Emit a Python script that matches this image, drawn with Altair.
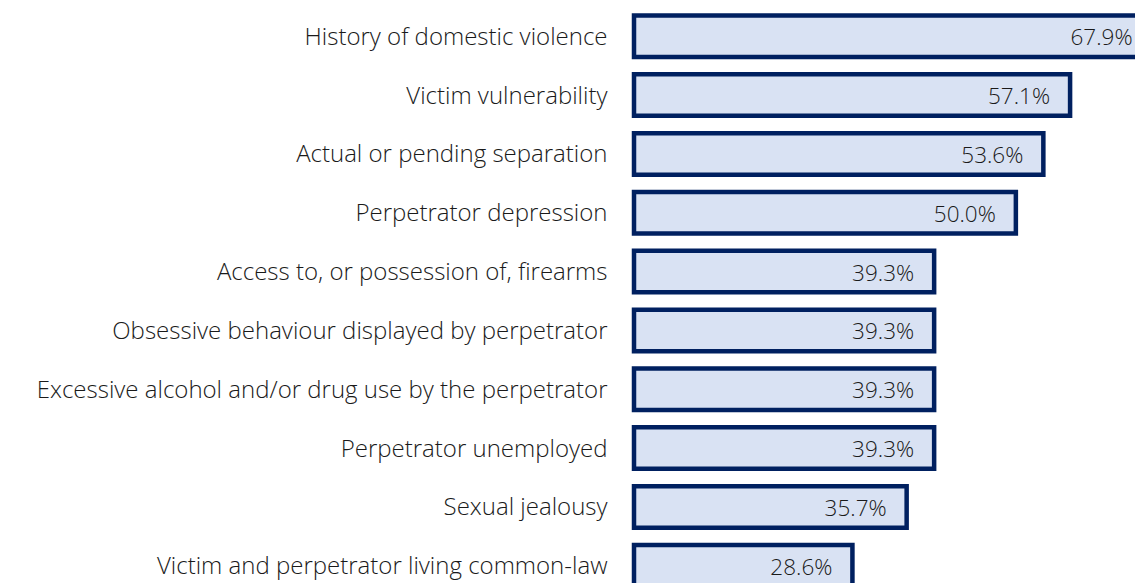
import altair as alt
import pandas as pd

categories = [
    "History of domestic violence",
    "Victim vulnerability",
    "Actual or pending separation",
    "Perpetrator depression ",
    "Access to, or possession of, firearms",
    "Obsessive behaviour displayed by perpetrator",
    "Excessive alcohol and/or drug use by the perpetrator",
    "Perpetrator unemployed",
    "Sexual jealousy",
    "Victim and perpetrator living common-law",
]
values = [67.9, 57.1, 53.6, 50.0, 39.3, 39.3, 39.3, 39.3, 35.7, 28.6]

df = pd.DataFrame({"factor": categories, "pct": values})

FONT = "Open Sans"
TEXT_COLOR = "#1a1a1a"

y_enc = alt.Y(
    "factor:N",
    sort=categories,
    title=None,
    scale=alt.Scale(range=[0, 586], paddingInner=0.295, paddingOuter=0.127),
    axis=alt.Axis(
        domain=False,
        ticks=False,
        grid=False,
        labelPadding=27,
        labelOffset=1.5,
        labelFontSize=24,
        labelFont=FONT,
        labelFontWeight=300,
        labelColor=TEXT_COLOR,
        labelLimit=800,
    ),
)
x_enc = alt.X(
    "pct:Q",
    scale=alt.Scale(domain=[0, 65.6], nice=False, zero=True),
    axis=None,
)

base = alt.Chart(df)

bars = base.mark_bar(fill="#D9E2F3", stroke="#002060", strokeWidth=4.5).encode(
    x=x_enc, y=y_enc
)

labels = (
    base.transform_calculate(lbl="format(datum.pct, '.1f') + '%'")
    .mark_text(
        align="right",
        baseline="middle",
        dx=-20,
        dy=2,
        fontSize=22.5,
        font=FONT,
        fontWeight=300,
        color=TEXT_COLOR,
    )
    .encode(x=x_enc, y=y_enc, text="lbl:N")
)

chart = (
    alt.layer(bars, labels)
    .properties(
        width=501,
        height=575,
        padding={"left": 626, "top": 0, "right": 0, "bottom": 0},
        autosize=alt.AutoSizeParams(type="none"),
        background="white",
    )
    .configure_view(stroke=None)
)

chart.save("out.html", embed_options={"renderer": "svg", "actions": False})
